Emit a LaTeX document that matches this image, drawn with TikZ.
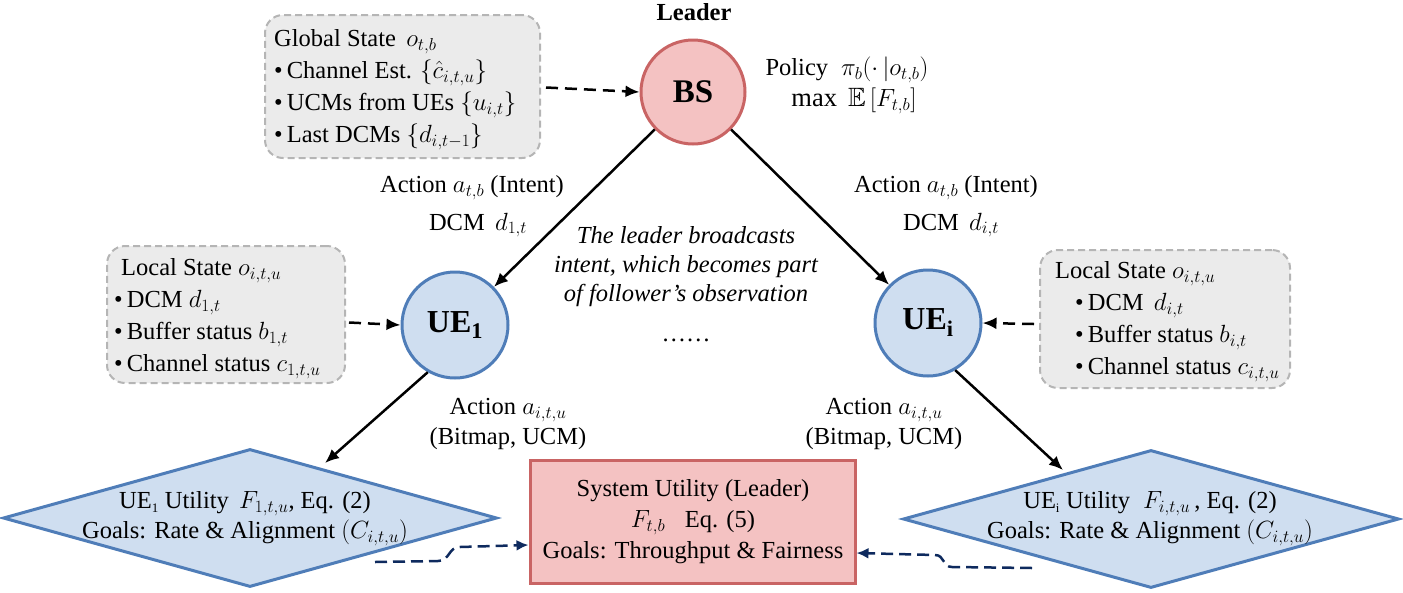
\documentclass[tikz,border=0pt]{standalone}
\usepackage{amssymb}
\usepackage{fontspec}
\setmainfont{Liberation Serif}
\usetikzlibrary{shapes.geometric,arrows.meta}
\DeclareMathSizes{24.5}{26.5}{18}{14}
\definecolor{pinkfill}{HTML}{F4C2C2}
\definecolor{pinkdraw}{HTML}{C96464}
\definecolor{bluefill}{HTML}{CFDEF0}
\definecolor{bluedraw}{HTML}{4F7DB8}
\definecolor{grayfill}{HTML}{EBEBEB}
\definecolor{graydraw}{HTML}{B5B5B5}
\definecolor{navy}{HTML}{0E2A5E}
\newcommand{\smallsub}[1]{\textsubscript{\fontsize{13}{13}\selectfont #1}}
\begin{document}
\begin{tikzpicture}[x=1pt,y=-1pt,
  every node/.style={font=\fontsize{24.5}{30}\selectfont},
  leadercirc/.style={circle,draw=pinkdraw,fill=pinkfill,line width=3pt,minimum size=104pt,inner sep=0pt},
  uecirc/.style={circle,draw=bluedraw,fill=bluefill,line width=3pt,minimum size=106pt,inner sep=0pt},
  statebox/.style={draw=graydraw,fill=grayfill,dashed,dash pattern=on 7pt off 4pt,line width=2pt,rounded corners=18pt},
  statetext/.style={align=left,anchor=west,inner sep=0pt,font=\fontsize{24.5}{32}\selectfont},
  udiamond/.style={diamond,draw=bluedraw,fill=bluefill,line width=3pt,inner sep=0pt},
  sysbox/.style={draw=pinkdraw,fill=pinkfill,line width=3pt},
  solidarrow/.style={line width=2.5pt,-{Latex[length=14pt,width=12pt]}},
  dasharrow/.style={line width=2.5pt,dash pattern=on 12pt off 7pt,-{Latex[length=14pt,width=12pt]}},
  navyarrow/.style={navy,line width=2.5pt,dash pattern=on 12pt off 6pt,-{Latex[length=12pt,width=11pt]}},
  lbl/.style={align=center,inner sep=0pt}
]
\useasboundingbox (0,0) rectangle (1403,592);

% state boxes
\node[statebox,minimum width=275pt,minimum height=143pt] (gs) at (402.5,86.5) {};
\node[statetext] (gstext) at (274,90) {Global State $\,o_{t,b}$\\
\textbullet\,Channel Est. $\{\hat{c}_{i,t,u}\}$\\
\textbullet\,UCMs from UEs $\{u_{i,t}\}$\\
\textbullet\,Last DCMs $\{d_{i,t-1}\}$};

\node[statebox,minimum width=238pt,minimum height=137pt] (ls1) at (226,314.5) {};
\node[statetext] (ls1text) at (114,319) {\hspace*{7pt}Local State $o_{i,t,u}$\\
\textbullet\,DCM $d_{1,t}$\\
\textbullet\,Buffer status $b_{1,t}$\\
\textbullet\,Channel status $c_{1,t,u}$};

\node[statebox,minimum width=250pt,minimum height=138pt] (lsi) at (1165,319) {};
\node[statetext] (lsitext) at (1055,322) {Local State $o_{i,t,u}$\\
\hspace*{20pt}\textbullet\,DCM $\,d_{i,t}$\\
\hspace*{20pt}\textbullet\,Buffer status $b_{i,t}$\\
\hspace*{20pt}\textbullet\,Channel status $c_{i,t,u}$};

% leader
\node[font=\fontsize{24.5}{28}\selectfont\bfseries] (leader) at (694,12) {Leader};
\node[leadercirc,font=\fontsize{33}{35}\selectfont\bfseries] (bs) at (693,92) {BS};
\node[lbl,align=center] (policy) at (847,85) {Policy $\;\pi_b(\cdot\,|o_{t,b})$\\[1pt] \hspace*{14pt}$\max\;\mathbb{E}\,[F_{t,b}]$};

% UEs
\node[uecirc,font=\fontsize{32}{34}\selectfont\bfseries] (ue1) at (455,325) {UE$_\mathbf{1}$};
\node[uecirc,font=\fontsize{32}{34}\selectfont\bfseries] (uei) at (928,323) {UE$_\mathbf{i}$};

% diamonds
\node[udiamond,minimum width=494pt,minimum height=138pt] (d1) at (250,518) {};
\node[lbl] (d1text) at (245,519) {UE\smallsub{1} Utility $\,F_{1,t,u}$, Eq. (2)\\Goals: Rate \& Alignment $(C_{i,t,u})$};
\node[udiamond,minimum width=496pt,minimum height=138pt] (di) at (1151,519) {};
\node[lbl] (ditext) at (1150,519) {UE\smallsub{i} Utility \;$F_{i,t,u}$\,, Eq. (2)\\Goals: Rate \& Alignment $(C_{i,t,u})$};

% system utility
\node[sysbox,minimum width=325pt,minimum height=123pt] (sys) at (692.5,521.5) {};
\node[lbl] (systext) at (693,522) {System Utility (Leader)\\[1pt]$F_{t,b}$\;\; Eq. (5)\\[1pt]Goals: Throughput \& Fairness};

% labels
\node[lbl] (act1) at (472,188) {Action $a_{t,b}$ (Intent)};
\node[lbl] (dcm1) at (478,225) {DCM $\,d_{1,t}$};
\node[lbl] (acti) at (946,188) {Action $a_{t,b}$ (Intent)};
\node[lbl] (dcmi) at (951,225) {DCM $\,d_{i,t}$};
\node[lbl,font=\fontsize{24.5}{29}\selectfont\itshape] (note) at (686,267) {The leader broadcasts\\intent, which becomes part\\of follower's observation};
\node[lbl] (dots) at (686,340) {\ldots\ldots};
\node[lbl] (aiu1) at (508,424) {Action $a_{i,t,u}$\\(Bitmap, UCM)};
\node[lbl] (aiui) at (884,424) {Action $a_{i,t,u}$\\(Bitmap, UCM)};

% arrows
\draw[dasharrow] (gs.east) ++(5,1) coordinate (gsout) -- (bs.west);
\draw[dasharrow] (ls1.east) ++(3,8) coordinate (ls1out) -- (ue1.west);
\draw[dasharrow] (lsi.west) ++(-5,5) coordinate (lsiout) -- (uei.east);
\draw[solidarrow] (bs) -- (ue1);
\draw[solidarrow] (bs) -- (uei);
\draw[solidarrow] (ue1.-120) -- (325,463) coordinate (d1in);
\draw[solidarrow] (uei.-60) -- (1063,470) coordinate (diin);
\coordinate (nl) at (375,562);
\coordinate (nr) at (1032,568);
\draw[navyarrow] (nl) -- (438,561) .. controls (450,561) and (448,547) .. (460,547) -- (sys.west |- 0,545);
\draw[navyarrow] (nr) -- (952,567) .. controls (942,567) and (945,555) .. (935,555) -- (sys.east |- 0,553);
\end{tikzpicture}
\end{document}
